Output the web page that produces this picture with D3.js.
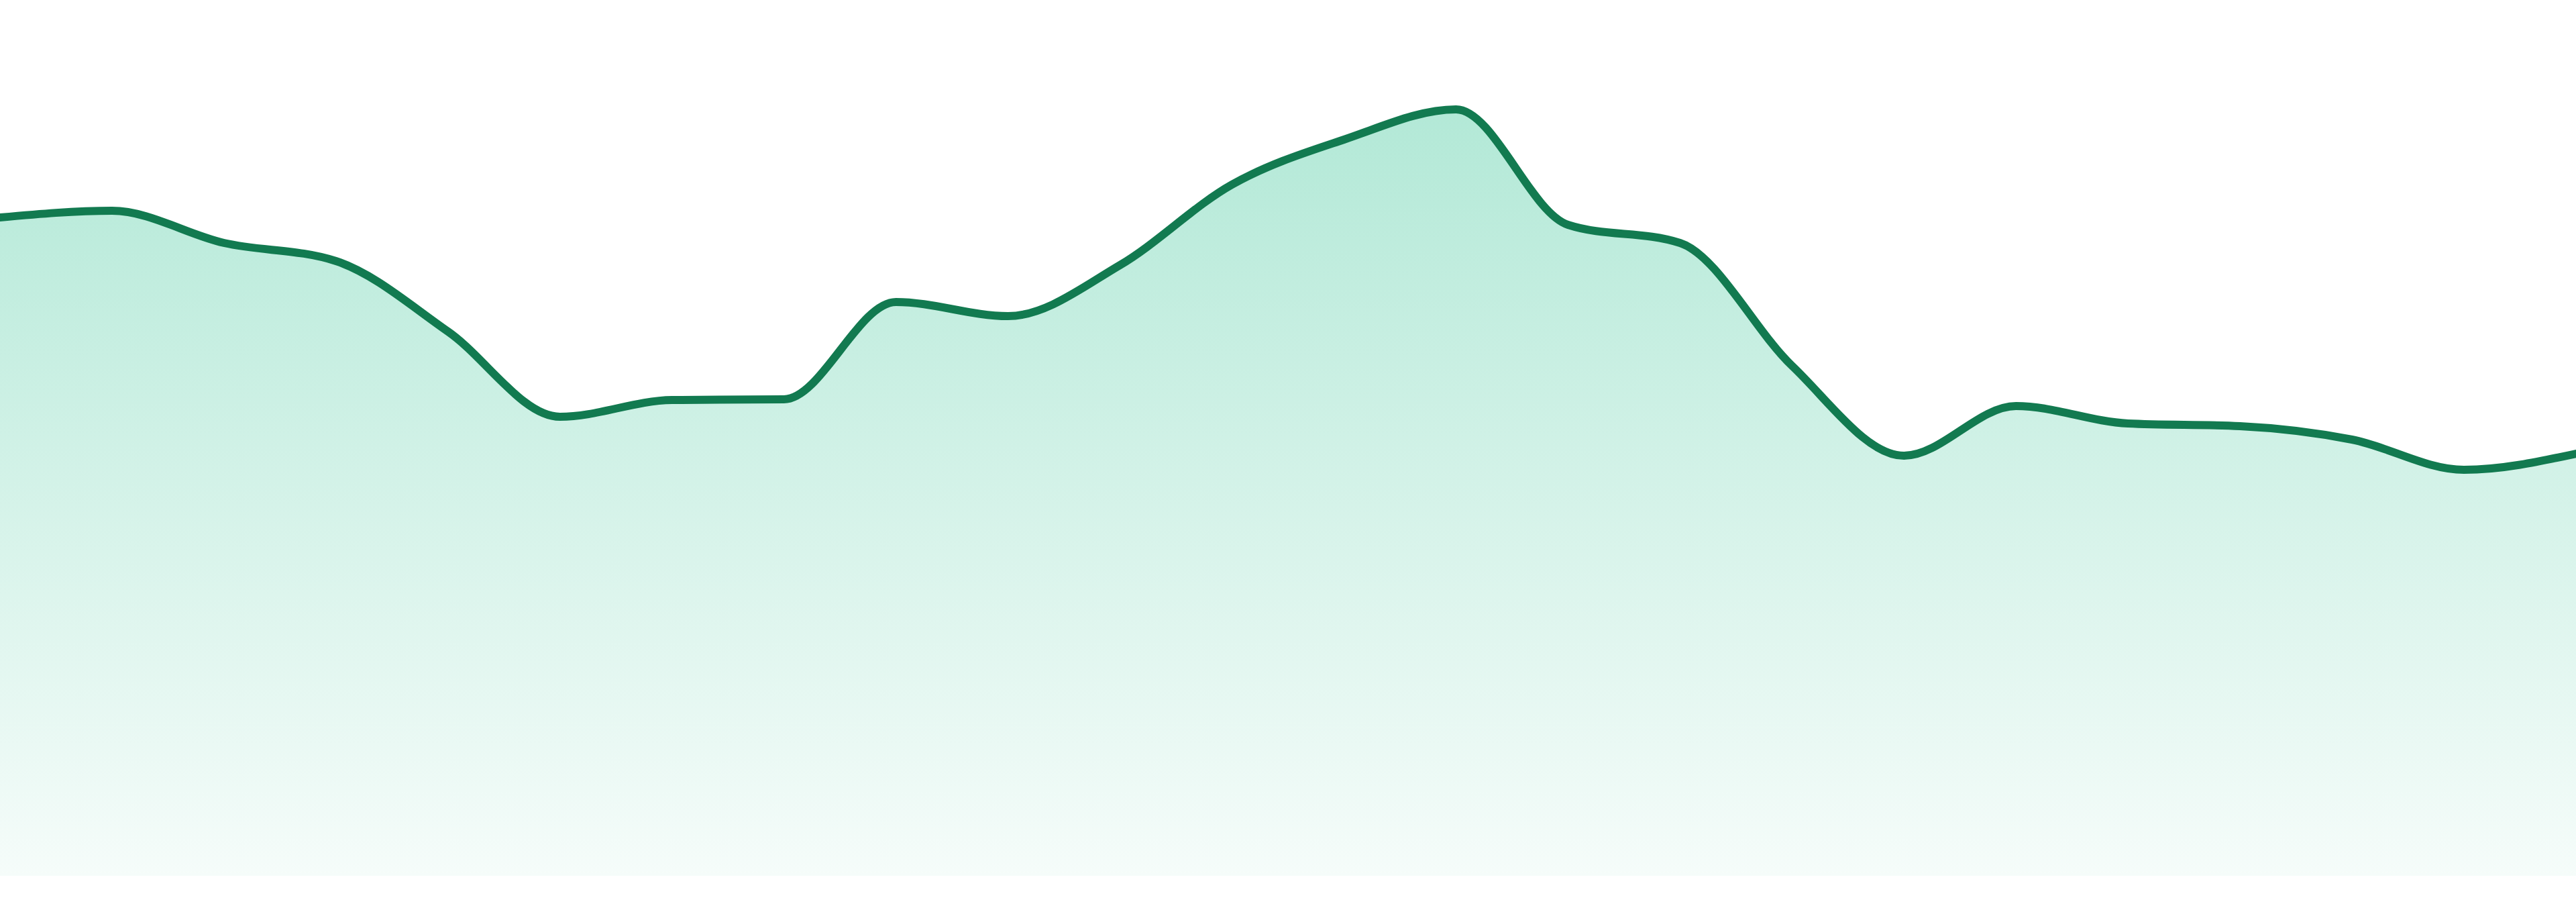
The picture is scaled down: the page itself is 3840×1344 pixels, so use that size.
<!DOCTYPE html>
<html>
<head>
<meta charset="utf-8">
<script src="https://cdn.jsdelivr.net/npm/d3@7"></script>
<style>
  html, body { margin: 0; padding: 0; background: #ffffff; }
  svg { display: block; }
</style>
</head>
<body>
<div id="chart"></div>
<script>
// 24 evenly spaced samples
const labels = d3.range(24).map(i => `P${i + 1}`);
const values = [
    98.1, 99.1, 94.3, 91.6, 81.1, 68.4, 70.9, 71.0, 85.5, 83.4, 91.0, 103.0,
    109.7, 114.2, 97.0, 94.3, 76.0, 62.6, 70.0, 67.4, 67.0, 65.0, 60.5, 62.9
];

const width = 3840;
const height = 1344;
const margin = { top: 163, right: 0, bottom: 39, left: 0 };

const data = labels.map((l, i) => ({ label: l, value: values[i] }));

const svg = d3.select('#chart').append('svg')
    .attr('width', width)
    .attr('height', height);

const x = d3.scalePoint()
    .domain(labels)
    .range([margin.left, width - margin.right]);

const y = d3.scaleLinear()
    .domain([0, d3.max(values)])
    .range([height - margin.bottom, margin.top]);

// soft green fill fading to white
const grad = svg.append('defs').append('linearGradient')
    .attr('id', 'areaFill')
    .attr('x1', 0).attr('y1', 0)
    .attr('x2', 0).attr('y2', 1);
grad.append('stop').attr('offset', '0%').attr('stop-color', '#10b981').attr('stop-opacity', 0.32);
grad.append('stop').attr('offset', '100%').attr('stop-color', '#10b981').attr('stop-opacity', 0.04);

const area = d3.area()
    .x(d => x(d.label))
    .y0(y(0))
    .y1(d => y(d.value))
    .curve(d3.curveMonotoneX);

const line = d3.line()
    .x(d => x(d.label))
    .y(d => y(d.value))
    .curve(d3.curveMonotoneX);

svg.append('path')
    .datum(data)
    .attr('fill', 'url(#areaFill)')
    .attr('d', area);

svg.append('path')
    .datum(data)
    .attr('fill', 'none')
    .attr('stroke', '#127a50')
    .attr('stroke-width', 12)
    .attr('stroke-linejoin', 'round')
    .attr('stroke-linecap', 'round')
    .attr('d', line);
</script>
</body>
</html>
